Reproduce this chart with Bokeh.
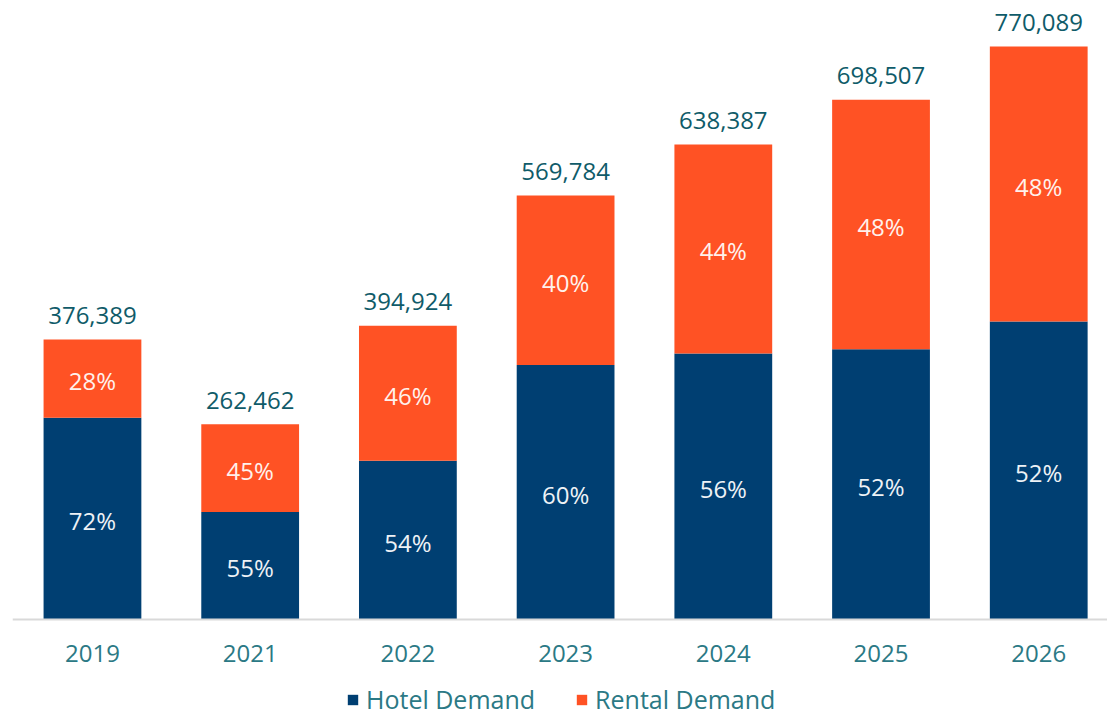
from bokeh.plotting import figure
from bokeh.models import ColumnDataSource, Legend, LegendItem, Range1d, Span
from bokeh.core.properties import value
from bokeh.embed import file_html
from bokeh.resources import INLINE

years = ["2019", "2021", "2022", "2023", "2024", "2025", "2026"]
totals = [376389, 262462, 394924, 569784, 638387, 698507, 770089]
hotel_pct = [72, 55, 54, 60, 56, 52, 52]
rental_pct = [28, 45, 46, 40, 44, 48, 48]

HOTEL = "#003f72"
RENTAL = "#ff5224"
FONT = "Open Sans"
TOTAL_COLOR = "#0f5b69"
LABEL_COLOR = "#2b7985"

x = list(range(len(years)))
hotel = [t * h / 100 for t, h in zip(totals, hotel_pct)]
top = list(totals)

src = ColumnDataSource(dict(
    x=x, hotel=hotel, top=top, zero=[0] * len(x),
    hmid=[h / 2 for h in hotel],
    rmid=[(h + t) / 2 for h, t in zip(hotel, top)],
    hlab=[f"{p}%" for p in hotel_pct],
    rlab=[f"{p}%" for p in rental_pct],
    tlab=[f"{t:,}" for t in totals],
    year=years,
))

p = figure(width=1107, height=717, output_backend="svg", toolbar_location=None,
           x_range=Range1d(-0.507, 6.436), y_range=Range1d(-131708, 831911),
           min_border_left=12, min_border_right=0, min_border_top=0, min_border_bottom=0,
           outline_line_color=None, background_fill_color=None, border_fill_color="white")
p.xaxis.visible = False
p.yaxis.visible = False
p.grid.visible = False

w = 0.62
rh = p.vbar(x="x", bottom="zero", top="hotel", width=w, color=HOTEL, line_color=None, source=src)
rr = p.vbar(x="x", bottom="hotel", top="top", width=w, color=RENTAL, line_color=None, source=src)

# baseline (category axis line)
p.add_layout(Span(location=0, dimension="width", line_color="#d9d9d9", line_width=2))

p.text(x="x", y="hmid", text="hlab", source=src, text_align="center", text_baseline="middle",
       y_offset=2, text_color="#eef2f6", text_font=value(FONT), text_font_size="24px")
p.text(x="x", y="rmid", text="rlab", source=src, text_align="center", text_baseline="middle",
       y_offset=2, text_color="#fff1ec", text_font=value(FONT), text_font_size="24px")
p.text(x="x", y="top", text="tlab", source=src, text_align="center", text_baseline="middle",
       y_offset=-24, text_color=TOTAL_COLOR, text_font=value(FONT), text_font_size="24px")
# category labels
p.text(x="x", y="zero", text="year", source=src, text_align="center", text_baseline="middle",
       y_offset=34, text_color=LABEL_COLOR, text_font=value(FONT), text_font_size="24px")

legend = Legend(items=[LegendItem(label="Hotel Demand", renderers=[rh]),
                       LegendItem(label="Rental Demand", renderers=[rr])],
                orientation="horizontal", location=(334, 1),
                border_line_color=None, background_fill_alpha=0,
                label_text_font=FONT, label_text_font_size="25px", label_text_color=LABEL_COLOR,
                label_text_baseline="middle", label_height=24,
                glyph_width=13, glyph_height=13, spacing=40, label_standoff=7,
                padding=0, margin=0)
p.add_layout(legend)

open("out.html", "w").write(file_html(p, INLINE))
